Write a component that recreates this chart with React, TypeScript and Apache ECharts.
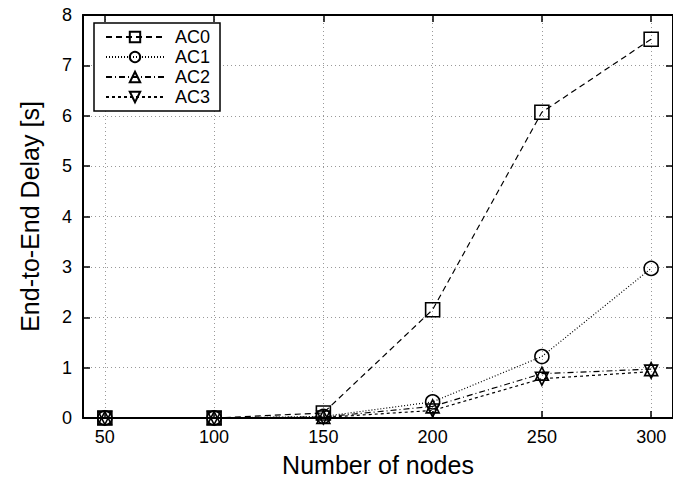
import React, { useEffect, useRef } from "react";
import * as echarts from "echarts";

const nodes = [50, 100, 150, 200, 250, 300];
const xTicks = [50, 100, 150, 200, 250, 300];
const ac0 = [0, 0, 0.1, 2.15, 6.07, 7.52];
const ac1 = [0, 0, 0.03, 0.32, 1.22, 2.97];
const ac2 = [0, 0, 0.02, 0.23, 0.88, 0.97];
const ac3 = [0, 0, 0.01, 0.15, 0.78, 0.92];
const seriesNames = ["AC0", "AC1", "AC2", "AC3"];

const FONT = "Liberation Sans, Arial, Helvetica, sans-serif";

export default function App() {
  const ref = useRef<HTMLDivElement>(null);
  useEffect(() => {
    if (!ref.current) return;
    const chart = echarts.init(ref.current, undefined, { renderer: "svg" });
    const mk = (name: string, vals: number[], symbol: string, dash: any, size: number) => ({
      name,
      type: "line",
      data: nodes.map((n, i) => [n, vals[i]]),
      symbol,
      symbolSize: size,
      showAllSymbol: true,
      lineStyle: { color: "#000", width: 1.2, type: dash },
      itemStyle: { color: "rgba(255,255,255,0)", borderColor: "#000", borderWidth: 1.6 },
      emphasis: { disabled: true },
    });
    const axisCommon = {
      axisLine: { show: true, onZero: false, lineStyle: { color: "#000", width: 2 } },
      axisTick: { show: true, inside: true, length: 7, lineStyle: { color: "#000", width: 1.5 } },
    };
    chart.setOption({
      animation: false,
      textStyle: { fontFamily: FONT },
      grid: { left: 83, top: 15, width: 594, height: 408, containLabel: false },
      legend: {
        orient: "vertical",
        left: 94,
        top: 23,
        data: seriesNames,
        backgroundColor: "#fff",
        borderColor: "#000",
        borderWidth: 1.5,
        borderRadius: 0,
        padding: [5, 10, 5, 11],
        itemWidth: 58,
        itemHeight: 13,
        itemGap: 2,
        textStyle: { fontSize: 18, color: "#000", fontFamily: FONT, lineHeight: 18, padding: [0, 0, 0, 6] },
      },
      xAxis: [
        {
          type: "value",
          min: 40,
          max: 310,
          position: "bottom",
          ...axisCommon,
          axisTick: { ...axisCommon.axisTick, customValues: xTicks },
          axisLabel: { customValues: xTicks, fontSize: 18, color: "#000", margin: 10, fontFamily: FONT },
          splitLine: { show: true, lineStyle: { color: "#999", width: 1, type: [1, 3] } },
          name: "Number of nodes",
          nameLocation: "middle",
          nameGap: 34,
          nameTextStyle: { fontSize: 25, color: "#000", fontFamily: FONT },
        },
        {
          type: "value",
          min: 40,
          max: 310,
          position: "top",
          ...axisCommon,
          axisTick: { ...axisCommon.axisTick, customValues: xTicks },
          axisLabel: { show: false, customValues: xTicks },
          splitLine: { show: false },
        },
      ],
      yAxis: [
        {
          type: "value",
          min: 0,
          max: 8,
          interval: 1,
          position: "left",
          ...axisCommon,
          axisLabel: { fontSize: 18, color: "#000", margin: 11, fontFamily: FONT },
          splitLine: { show: true, lineStyle: { color: "#999", width: 1, type: [1, 3] } },
          name: "End-to-End Delay [s]",
          nameLocation: "middle",
          nameGap: 41,
          nameTextStyle: { fontSize: 25, color: "#000", fontFamily: FONT },
        },
        {
          type: "value",
          min: 0,
          max: 8,
          interval: 1,
          position: "right",
          ...axisCommon,
          axisLabel: { show: false },
          splitLine: { show: false },
        },
      ],
      series: [
        mk("AC0", ac0, "rect", [6, 4], 14),
        mk("AC1", ac1, "circle", [1, 2], 14),
        mk("AC2", ac2, "triangle", [6, 3, 1, 3], 13),
        mk("AC3", ac3, "path://M0,0 L10,0 L5,10 Z", [3, 3], 13),
      ],
    });
    return () => chart.dispose();
  }, []);
  return <div ref={ref} style={{ width: 673, height: 482, position: "absolute", left: 0, top: 0 }} />;
}
